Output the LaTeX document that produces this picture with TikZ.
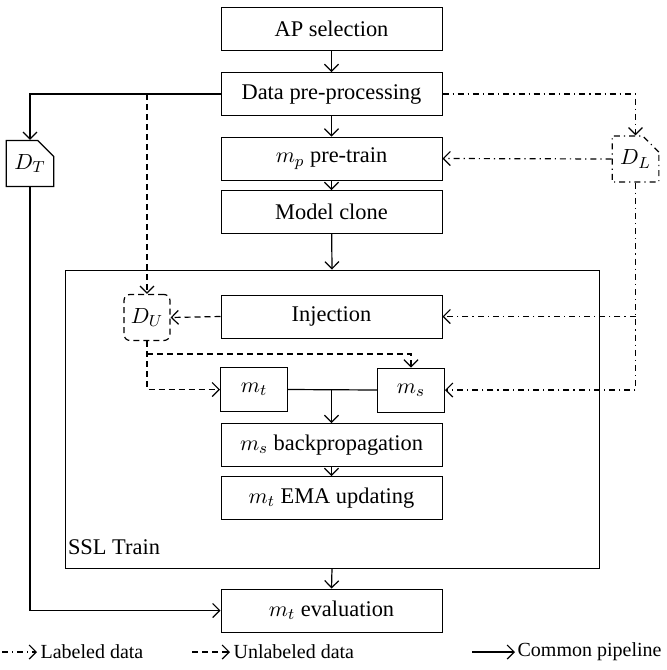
\documentclass[tikz,border=0pt]{standalone}
\usepackage{fontspec}
\setmainfont{Liberation Serif}
\usepackage{tikz}
\usetikzlibrary{arrows.meta}
\usetikzlibrary{shapes.misc}
\usetikzlibrary{calc}
\newcommand{\boxfont}{\rmfamily\fontsize{11.2}{13}\selectfont}
\newcommand{\legfont}{\rmfamily\fontsize{10}{12}\selectfont}
\tikzstyle{box} = [draw,line width=0.5pt,minimum width=110.5pt,minimum height=21.5pt,inner sep=0pt,font=\boxfont]
\tikzstyle{small} = [box,minimum width=33.5pt,minimum height=22pt]
\tikzstyle{data} = [draw,line width=0.6pt,minimum width=23pt,minimum height=23pt,inner sep=0pt,font=\boxfont]
\tikzstyle{flow} = [line width=0.6pt,-{Straight Barb[length=3.5pt,width=7pt]}]
\tikzstyle{uflow} = [flow,dash pattern=on 3pt off 2pt]
\tikzstyle{lflow} = [flow,dash pattern=on 3pt off 2pt on 0.6pt off 2pt]

\begin{document}
\begin{tikzpicture}[x=0.5pt,y=-0.5pt]
\useasboundingbox (0,0) rectangle (667,670);

\node[box] (ap) at (331.5,28.5) {AP selection};
\node[box] (data) at (331.5,94) {Data pre-processing};
\node[box] (mp) at (331.5,158.5) {$m_p$ pre-train};
\node[box] (clone) at (331.5,212) {Model clone};
\node[draw,line width=0.5pt,minimum width=267pt,minimum height=149pt] (ssl) at (332,419) {};
\node[font=\boxfont] (ssltxt) at (114,547) {SSL Train};
\node[box] (inj) at (331.5,316.5) {Injection};
\node[small] (mt) at (254,389.5) {$m_t$};
\node[small] (ms) at (411,390) {$m_s$};
\node[box] (bp) at (331.5,445) {$m_s$ backpropagation};
\node[box] (ema) at (331.5,498) {$m_t$ EMA updating};
\node[box] (evalm) at (331.5,610.5) {$m_t$ evaluation};

\node[data,chamfered rectangle,chamfered rectangle corners=north east,chamfered rectangle xsep=4pt,chamfered rectangle ysep=4pt] (dt) at (30,163.5) {$D_T$};
\node[data,chamfered rectangle,chamfered rectangle corners=north east,chamfered rectangle xsep=4pt,chamfered rectangle ysep=4pt,dash pattern=on 3pt off 2pt on 0.6pt off 2pt] (dl) at (635.5,159) {$D_L$};
\node[data,rounded corners=3pt,dash pattern=on 3pt off 2pt] (du) at (147,317.5) {$D_U$};

% common pipeline
\draw[flow] (ap) -- (data);
\draw[flow] (data) -- (mp);
\draw[flow] (mp) -- (clone);
\draw[flow] (clone) -- (ssl.north);
\draw[flow] (data.west) -| (dt.north);
\draw[flow] (dt.south) |- (evalm.west);
\draw[line width=0.6pt] (mt.east) -- (ms.west);
\draw[flow] (mt.east -| bp.north) -- (bp.north);
\draw[flow] (bp) -- (ema);
\draw[flow] (ssl.south) -- (evalm.north);

% unlabeled data
\draw[uflow] (data.west -| du.north) -- (du.north);
\draw[uflow] (inj.west) -- (du.east);
\draw[uflow] (du.south) |- (mt.west);
\coordinate (usplit) at (147,354);
\draw[uflow] (usplit) -| (ms.north);

% labeled data
\draw[lflow] (data.east) -| (dl.north);
\draw[lflow] (dl.west) -- (mp.east);
\draw[lflow] (dl.south) |- (ms.east);
\draw[lflow] (inj.east -| dl.south) -- (inj.east);

% legend
\coordinate (l1) at (2,652);
\coordinate (l2) at (192,652);
\coordinate (l3) at (472,652);
\draw[lflow] (l1) -- ++(35,0) node[right,inner sep=1.5pt,font=\legfont] (ltxt) {Labeled data};
\draw[uflow] (l2) -- ++(38,0) node[right,inner sep=1.5pt,font=\legfont] (utxt) {Unlabeled data};
\draw[flow] (l3) -- ++(43,0) node[right,inner sep=1pt,font=\legfont] (ctxt) {Common pipeline};

\end{tikzpicture}
\end{document}
